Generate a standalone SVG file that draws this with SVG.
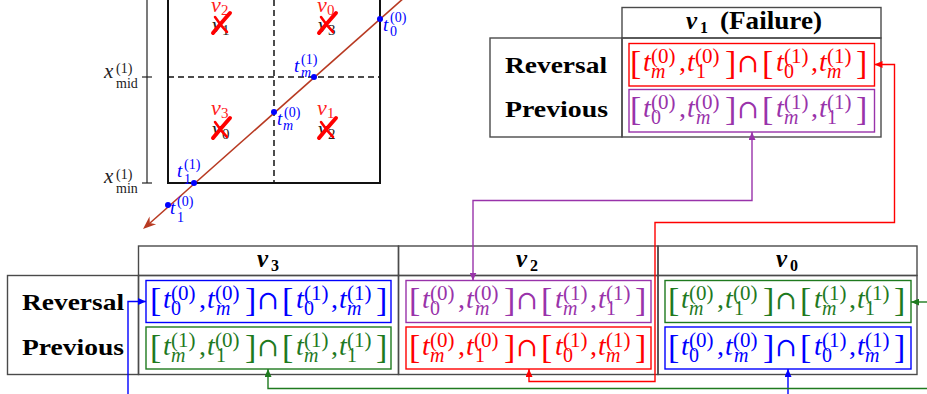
<svg xmlns="http://www.w3.org/2000/svg" xmlns:xlink="http://www.w3.org/1999/xlink" width="927" height="394" viewBox="0 0 927 394">
<style>
text{font-family:"Liberation Serif","DejaVu Serif",serif;}
.br{font-size:34px;}
.cap{font-size:26px;font-family:"DejaVu Serif","Liberation Serif",serif;}
.mt{font-size:28px;font-style:italic;}
.mt .u{font-style:normal;}
.sp{font-size:21px;}
.sb{font-size:20px;}
.i{font-style:italic;}
.lbl{font-size:24px;font-weight:bold;}
.hd{font-size:25px;font-weight:bold;}
.hs{font-size:16px;font-weight:bold;}
.cell{fill:none;stroke:#4a4a4a;stroke-width:1.4;}
.bx{fill:none;stroke-width:1.4;}
.red{fill:#ff0000;}
.pur{fill:#9933aa;}
.grn{fill:#1f7a1f;}
.blu{fill:#0000ff;}
.red .bx{stroke:#ff0000;}
.pur .bx{stroke:#9933aa;}
.grn .bx{stroke:#1f7a1f;}
.blu .bx{stroke:#0000ff;}
.con{fill:none;stroke-width:1.4;}
.pv{font-style:italic;font-size:22px;}
.pvs{font-size:15px;}
.pt{font-style:italic;font-size:19px;fill:#0000ff;}
.ps{font-size:14px;fill:#0000ff;}
.ax{font-size:21px;font-style:italic;fill:#222;}
.axs{font-size:14px;fill:#222;}
.xm{stroke:#ff0000;fill:none;stroke-linecap:round;}
</style>
<defs>
<marker id="aR" viewBox="0 0 8 7" refX="8" refY="3.5" markerWidth="8" markerHeight="7" markerUnits="userSpaceOnUse" orient="auto-start-reverse"><path d="M0,0 L8,3.5 L0,7 z" fill="#ff0000"/></marker>
<marker id="aP" viewBox="0 0 8 7" refX="8" refY="3.5" markerWidth="8" markerHeight="7" markerUnits="userSpaceOnUse" orient="auto-start-reverse"><path d="M0,0 L8,3.5 L0,7 z" fill="#9933aa"/></marker>
<marker id="aB" viewBox="0 0 8 7" refX="8" refY="3.5" markerWidth="8" markerHeight="7" markerUnits="userSpaceOnUse" orient="auto-start-reverse"><path d="M0,0 L8,3.5 L0,7 z" fill="#0000ff"/></marker>
<marker id="aG" viewBox="0 0 8 7" refX="8" refY="3.5" markerWidth="8" markerHeight="7" markerUnits="userSpaceOnUse" orient="auto-start-reverse"><path d="M0,0 L8,3.5 L0,7 z" fill="#1f7a1f"/></marker>
<g id="fb" stroke="none">
<text class="br" x="2" y="31">[</text>
<text class="br" x="97" y="31">]</text>
<text class="cap" x="109" y="29">∩</text>
<text class="br" x="134" y="31">[</text>
<text class="br" x="228" y="31">]</text>
<text class="mt" y="28"><tspan x="15">t</tspan><tspan x="51" class="u">,</tspan><tspan x="59">t</tspan><tspan x="148">t</tspan><tspan x="183" class="u">,</tspan><tspan x="191">t</tspan></text>
</g>
</defs>

<!-- plot -->
<g id="plot">
<line x1="147" y1="0" x2="147" y2="183" stroke="#222" stroke-width="1.2"/>
<line x1="142" y1="77" x2="152" y2="77" stroke="#222" stroke-width="1.2"/>
<line x1="142" y1="183" x2="152" y2="183" stroke="#222" stroke-width="1.2"/>
<text class="ax" x="104" y="78">x</text><text class="axs" x="116" y="73">(1)</text><text class="axs" x="116" y="88">mid</text>
<text class="ax" x="104" y="183">x</text><text class="axs" x="116" y="179">(1)</text><text class="axs" x="116" y="193">min</text>
<path d="M168,-2 V183 H380 V-2" fill="none" stroke="#111" stroke-width="2"/>
<line x1="274" y1="0" x2="274" y2="183" stroke="#111" stroke-width="1.5" stroke-dasharray="6,4"/>
<line x1="168" y1="77" x2="380" y2="77" stroke="#111" stroke-width="1.5" stroke-dasharray="6,4"/>
<line x1="405" y1="-3" x2="150" y2="223" stroke="#b83a22" stroke-width="1.6"/>
<polygon points="143,229 149.5,216.6 149.8,223.1 156.1,224.2" fill="#b83a22"/>
<text class="pv" x="211" y="12" fill="#ff2020">v</text><text class="pvs" x="221" y="15" fill="#ff2020">2</text>
<text class="pv" x="212" y="32" fill="#222">v</text><text class="pvs" x="222" y="35" fill="#222">1</text>
<text class="pv" x="317" y="12" fill="#ff2020">v</text><text class="pvs" x="327" y="15" fill="#ff2020">0</text>
<text class="pv" x="318" y="32" fill="#222">v</text><text class="pvs" x="328" y="35" fill="#222">3</text>
<text class="pv" x="211" y="115" fill="#ff2020">v</text><text class="pvs" x="221" y="118" fill="#ff2020">3</text>
<text class="pv" x="212" y="136" fill="#222">v</text><text class="pvs" x="222" y="139" fill="#222">0</text>
<text class="pv" x="317" y="115" fill="#ff2020">v</text><text class="pvs" x="327" y="118" fill="#ff2020">1</text>
<text class="pv" x="318" y="136" fill="#222">v</text><text class="pvs" x="328" y="139" fill="#222">2</text>
<path class="xm" d="M213,33 Q222,22 230,13" stroke-width="4"/>
<path class="xm" d="M215,17 Q221,26 227,32" stroke-width="2.5"/>
<path class="xm" d="M319,33 Q328,22 336,13" stroke-width="4"/>
<path class="xm" d="M321,17 Q327,26 333,32" stroke-width="2.5"/>
<path class="xm" d="M213,138 Q222,127 230,118" stroke-width="4"/>
<path class="xm" d="M215,122 Q221,131 227,137" stroke-width="2.5"/>
<path class="xm" d="M319,138 Q328,127 336,118" stroke-width="4"/>
<path class="xm" d="M321,122 Q327,131 333,137" stroke-width="2.5"/>
<g fill="#0000ff">
<circle cx="380" cy="19" r="3"/>
<circle cx="314" cy="77" r="3"/>
<circle cx="274" cy="112" r="3"/>
<circle cx="194" cy="183" r="3"/>
<circle cx="168" cy="205" r="3"/>
</g>
<text class="pt" x="383" y="31">t</text><text class="ps" x="390" y="22">(0)</text><text class="ps" x="390" y="36">0</text>
<text class="pt" x="294" y="72">t</text><text class="ps" x="301" y="64">(1)</text><text class="ps i" x="301" y="77">m</text>
<text class="pt" x="277" y="125">t</text><text class="ps" x="284" y="117">(0)</text><text class="ps i" x="283" y="130">m</text>
<text class="pt" x="177" y="177">t</text><text class="ps" x="184" y="169">(1)</text><text class="ps" x="184" y="184">1</text>
<text class="pt" x="170" y="214">t</text><text class="ps" x="177" y="206">(0)</text><text class="ps" x="177" y="222">1</text>
</g>

<!-- top table: v1 (Failure) -->
<g id="tbl-v1">
<rect class="cell" x="622" y="7.5" width="259" height="30.5"/>
<rect class="cell" x="490" y="38" width="132" height="99"/>
<rect class="cell" x="622" y="38" width="259" height="99"/>
<text class="hd" x="686" y="29" font-style="italic">v</text><text class="hs" x="700" y="33">1</text>
<text class="hd" x="720" y="29" textLength="102" lengthAdjust="spacingAndGlyphs">(Failure)</text>
<text class="lbl" x="505" y="73" textLength="102" lengthAdjust="spacingAndGlyphs">Reversal</text>
<text class="lbl" x="505" y="117" textLength="103" lengthAdjust="spacingAndGlyphs">Previous</text>
</g>
<g id="v1-rev" class="red"><rect class="bx" x="629" y="43.5" width="245.5" height="42.5"/>
<g transform="translate(628,43)"><use xlink:href="#fb"/>
<text class="sp" y="20"><tspan x="23">(0)</tspan><tspan x="67">(0)</tspan><tspan x="156">(1)</tspan><tspan x="199">(1)</tspan></text>
<text class="sb" y="35"><tspan x="23" class="i">m</tspan><tspan x="68">1</tspan><tspan x="156">0</tspan><tspan x="199" class="i">m</tspan></text></g></g>
<g id="v1-prev" class="pur"><rect class="bx" x="629" y="89.5" width="245.5" height="42.5"/>
<g transform="translate(628,89)"><use xlink:href="#fb"/>
<text class="sp" y="20"><tspan x="23">(0)</tspan><tspan x="67">(0)</tspan><tspan x="156">(1)</tspan><tspan x="199">(1)</tspan></text>
<text class="sb" y="35"><tspan x="23">0</tspan><tspan x="68" class="i">m</tspan><tspan x="156" class="i">m</tspan><tspan x="199">1</tspan></text></g></g>

<!-- bottom table -->
<g id="tbl-bottom">
<rect class="cell" x="7.5" y="275.5" width="131" height="99"/>
<rect class="cell" x="138.5" y="246" width="260" height="29.5"/>
<rect class="cell" x="398.5" y="246" width="259.5" height="29.5"/>
<rect class="cell" x="658" y="246" width="259" height="29.5"/>
<rect class="cell" x="138.5" y="275.5" width="260" height="99"/>
<rect class="cell" x="398.5" y="275.5" width="259.5" height="99"/>
<rect class="cell" x="658" y="275.5" width="259" height="99"/>
<text class="lbl" x="22" y="310" textLength="102" lengthAdjust="spacingAndGlyphs">Reversal</text>
<text class="lbl" x="22" y="355" textLength="102" lengthAdjust="spacingAndGlyphs">Previous</text>
<text class="hd" x="257" y="267" font-style="italic">v</text><text class="hs" x="271" y="271">3</text>
<text class="hd" x="516" y="267" font-style="italic">v</text><text class="hs" x="530" y="271">2</text>
<text class="hd" x="776" y="267" font-style="italic">v</text><text class="hs" x="790" y="271">0</text>
</g>

<g id="v3-rev" class="blu"><rect class="bx" x="146" y="280.5" width="245" height="42"/>
<g transform="translate(148,280)"><use xlink:href="#fb"/>
<text class="sp" y="20"><tspan x="23">(0)</tspan><tspan x="67">(0)</tspan><tspan x="156">(1)</tspan><tspan x="199">(1)</tspan></text>
<text class="sb" y="35"><tspan x="23">0</tspan><tspan x="68" class="i">m</tspan><tspan x="156">0</tspan><tspan x="199" class="i">m</tspan></text></g></g>
<g id="v3-prev" class="grn"><rect class="bx" x="146" y="327" width="245" height="42"/>
<g transform="translate(148,327)"><use xlink:href="#fb"/>
<text class="sp" y="20"><tspan x="23">(1)</tspan><tspan x="67">(0)</tspan><tspan x="156">(1)</tspan><tspan x="199">(1)</tspan></text>
<text class="sb" y="35"><tspan x="23" class="i">m</tspan><tspan x="68">1</tspan><tspan x="156" class="i">m</tspan><tspan x="199">1</tspan></text></g></g>

<g id="v2-rev" class="pur"><rect class="bx" x="406" y="280.5" width="245" height="42"/>
<g transform="translate(407,280)"><use xlink:href="#fb"/>
<text class="sp" y="20"><tspan x="23">(0)</tspan><tspan x="67">(0)</tspan><tspan x="156">(1)</tspan><tspan x="199">(1)</tspan></text>
<text class="sb" y="35"><tspan x="23">0</tspan><tspan x="68" class="i">m</tspan><tspan x="156" class="i">m</tspan><tspan x="199">1</tspan></text></g></g>
<g id="v2-prev" class="red"><rect class="bx" x="406" y="327" width="245" height="42"/>
<g transform="translate(407,327)"><use xlink:href="#fb"/>
<text class="sp" y="20"><tspan x="23">(0)</tspan><tspan x="67">(0)</tspan><tspan x="156">(1)</tspan><tspan x="199">(1)</tspan></text>
<text class="sb" y="35"><tspan x="23" class="i">m</tspan><tspan x="68">1</tspan><tspan x="156">0</tspan><tspan x="199" class="i">m</tspan></text></g></g>

<g id="v0-rev" class="grn"><rect class="bx" x="665" y="280.5" width="246" height="42"/>
<g transform="translate(666,280)"><use xlink:href="#fb"/>
<text class="sp" y="20"><tspan x="23">(0)</tspan><tspan x="67">(0)</tspan><tspan x="156">(1)</tspan><tspan x="199">(1)</tspan></text>
<text class="sb" y="35"><tspan x="23" class="i">m</tspan><tspan x="68">1</tspan><tspan x="156" class="i">m</tspan><tspan x="199">1</tspan></text></g></g>
<g id="v0-prev" class="blu"><rect class="bx" x="665" y="327" width="246" height="42"/>
<g transform="translate(666,327)"><use xlink:href="#fb"/>
<text class="sp" y="20"><tspan x="23">(0)</tspan><tspan x="67">(0)</tspan><tspan x="156">(1)</tspan><tspan x="199">(1)</tspan></text>
<text class="sb" y="35"><tspan x="23">0</tspan><tspan x="68" class="i">m</tspan><tspan x="156">0</tspan><tspan x="199" class="i">m</tspan></text></g></g>

<!-- connectors -->
<g id="connectors">
<path class="con" stroke="#9933aa" d="M752,132 V200.5 H473 V280.5" marker-start="url(#aP)" marker-end="url(#aP)"/>
<path class="con" stroke="#ff0000" d="M874.5,64.5 H894.5 V222.5 H655 V381.5 H529 V369" marker-start="url(#aR)" marker-end="url(#aR)"/>
<path class="con" stroke="#0000ff" d="M128,396 V301.5 H146" marker-end="url(#aB)"/>
<path class="con" stroke="#0000ff" d="M788,396 V369" marker-end="url(#aB)"/>
<path class="con" stroke="#1f7a1f" d="M929,302 H911" marker-end="url(#aG)"/>
<path class="con" stroke="#1f7a1f" d="M929,388.5 H268 V369" marker-end="url(#aG)"/>
</g>
</svg>
